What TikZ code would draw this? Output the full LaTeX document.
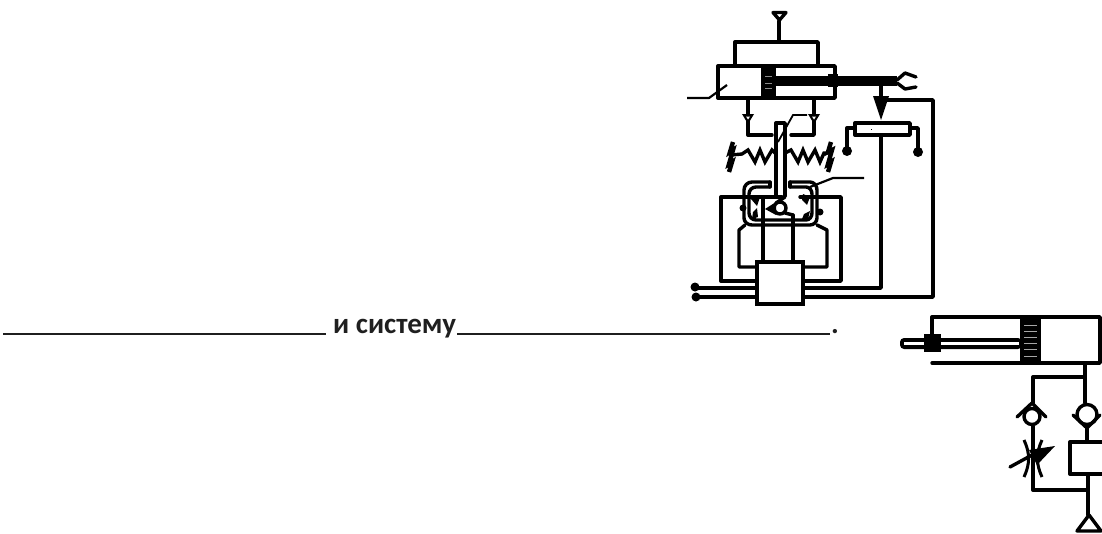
\documentclass[tikz,border=0pt]{standalone}
\usepackage{fontspec}
\setmainfont{Carlito}
\tikzset{
  ln/.style={line width=3.4pt,line join=round,line cap=round},
  thin ln/.style={line width=2.2pt,line join=round},
  spr/.style={line width=3.4pt,line join=miter},
  stripe/.style={line width=1pt,draw=#1},
  uline/.style={line width=2.2pt,draw=black!88},
  txt/.style={anchor=base west,inner sep=0pt,font=\fontsize{29}{32}\selectfont\bfseries,text=black!88},
}
\begin{document}
\begin{tikzpicture}[x=1pt,y=-1pt]
\useasboundingbox (0,0) rectangle (1102,533);
% text row
\draw[uline] (3,334) -- (326,334);
\draw[uline] (457,334) -- (830,334);
\node[txt] (label) at (333,333) {и систему};
\node[txt] (dot) at (831,333) {.};
% upper cylinder
\draw[ln] (773,12.5) -- (786,12.5) -- (779.5,20) -- cycle;
\draw[ln] (779,21) -- (779,42);
\draw[ln] (735,65) -- (735,42) -- (818,42) -- (818,65);
\draw[ln] (718,66) rectangle (835,98);
\fill (761,65) rectangle (776,100);
\foreach \yy in {76,83,88} \draw[stripe=black!45] (765,\yy) -- (772,\yy);
\fill (776,76) rectangle (897,86);
\fill (828,74) rectangle (838,87);
\draw[ln] (916,77) -- (905,73) -- (897,80);
\draw[ln] (916,87) -- (905,89) -- (897,83);
\draw[thin ln] (687,98) -- (709,98) -- (727,85);
% lines under cylinder with check valves
\draw[ln] (748,98) -- (748,135) -- (772,135);
\draw[ln] (814,98) -- (814,135) -- (791,135);
\fill (742,114) -- (754,114) -- (748,124) -- cycle;
\fill (808,114) -- (820,114) -- (814,124) -- cycle;
\fill[white] (746,116.5) -- (750,116.5) -- (748,119.5) -- cycle;
\fill[white] (812,116.5) -- (816,116.5) -- (814,119.5) -- cycle;
% valve stem
\draw[ln] (776,196) -- (776,123) -- (785,123) -- (785,196);
\draw[line width=1.8pt] (778,142) -- (793,115) -- (807,115);
% springs
\draw[spr] (731,155) -- (742,154) -- (748,150) -- (755,162) -- (760,150) -- (765,162) -- (772,150) -- (776,154);
\draw[spr] (785,153) -- (791,150) -- (798,162) -- (803,150) -- (808,162) -- (815,150) -- (820,162) -- (824,153) -- (829,153);
\draw[line width=4.4pt] (733,142) -- (730,152) -- (733,150) -- (729,164) -- (732,162) -- (729,172);
\draw[line width=4.4pt] (831,142) -- (828,152) -- (832,150) -- (828,164) -- (831,162) -- (828,172);
% potentiometer
\draw[ln] (855,123) rectangle (910,135);
\draw[ln] (855,128) -- (847,128) -- (847,150);
\draw[ln] (910,128) -- (918,128) -- (918,150);
\fill (847,151) circle (5);
\fill (918,152) circle (5);
\draw[ln] (881,86) -- (881,98);
\fill (873,96) -- (889,96) -- (881,120) -- cycle;
\draw[ln] (887,100) -- (933,100) -- (933,297) -- (803,297);
\draw[ln] (881,135) -- (881,288) -- (803,288);
\fill (871,129) rectangle (872,130);
% valve body
\draw[ln] (770,182) -- (752,182) to[out=180,in=90] (744,190) -- (744,218) to[out=-90,in=180] (752,225) -- (810,225) to[out=0,in=-90] (817,218) -- (817,190) to[out=90,in=0] (810,182) -- (790,182);
\draw[ln] (770,187) -- (756,187) to[out=180,in=90] (749,194) -- (749,213) to[out=-90,in=180] (756,220) -- (806,220) to[out=0,in=-90] (812,213) -- (812,194) to[out=90,in=0] (806,187) -- (790,187);
\draw[ln] (770,182) -- (770,187);
\draw[ln] (790,182) -- (790,187);
\draw[thin ln] (810,187) -- (833,178) -- (864,178);
% central check parts
\draw[ln] (780,208) circle (6);
\fill (765,209) -- (776,202) -- (776,215) -- cycle;
\fill (751,199) -- (760,197) -- (757,206) -- cycle;
\fill (753,212) -- (757,208) -- (758,217) -- (752,219) -- cycle;
\fill (803,194) -- (810,197) -- (807,205) -- (802,200) -- cycle;
\fill (804,214) -- (810,211) -- (808,219) -- (802,219) -- cycle;
\fill (743,208) circle (3.5);
\fill (820,212) circle (3.5);
\draw[ln] (785,213) -- (793,215);
\draw[ln] (763,197) -- (782,197);
\draw[ln] (776,203) -- (785,197) ;
% ports
\draw[ln] (763,197) -- (763,262);
\draw[ln] (793,215) -- (793,262);
\draw[ln] (755,281) -- (721,281) -- (721,197) -- (763,197);
\draw[ln] (805,281) -- (841,281) -- (841,197) -- (800,197);
\draw[ln] (757,267) -- (739,267) -- (739,230) -- (745,225);
\draw[ln] (803,267) -- (827,267) -- (827,230) -- (817,225);
% block
\draw[line width=3.6pt,fill=white] (757,262) rectangle (803,304);
\draw[ln] (757,288) -- (695,288);
\draw[ln] (757,297) -- (696,297);
\fill (695,287) circle (4.5);
\fill (696,297) circle (4.5);
% lower cylinder
\draw[ln] (932,334) -- (932,317) -- (1100,317) -- (1100,363) -- (932,363);
\fill (1020,316) rectangle (1041,365);
\foreach \yy in {325,331,337,343,349,356} \draw[stripe=black!35] (1024,\yy) -- (1037,\yy);
\fill[rounded corners=4pt] (900,338) rectangle (1022,349);
\fill[white] (904,342) rectangle (1019,345);
\fill (924,334) rectangle (941,352);
% lower hydraulics
\draw[ln] (1085,363) -- (1085,403);
\draw[ln] (1085,377) -- (1033,377) -- (1033,403);
\draw[ln] (1017,417) -- (1032,403) -- (1046,417);
\draw[ln] (1032,416.5) circle (8);
\draw[ln] (1073,415) -- (1087,428) -- (1100,415);
\draw[ln] (1087,414.5) circle (10);
\draw[ln] (1087,428) -- (1087,442);
\draw[ln] (1102,442) -- (1070,442) -- (1070,474) -- (1102,474);
\draw[ln] (1088,474) -- (1088,515);
\draw[ln] (1033,426) -- (1033,490) -- (1088,490);
\draw[ln] (1077,531) -- (1089,515) -- (1101,531) -- cycle;
\draw[line width=3pt] (1024,440) to[bend left=25] (1024,477);
\draw[line width=3pt] (1042,440) to[bend right=25] (1042,477);
\draw[ln] (1010,467) -- (1032,455);
\fill (1055,446) -- (1029,450) -- (1037,465) -- cycle;
\end{tikzpicture}
\end{document}
